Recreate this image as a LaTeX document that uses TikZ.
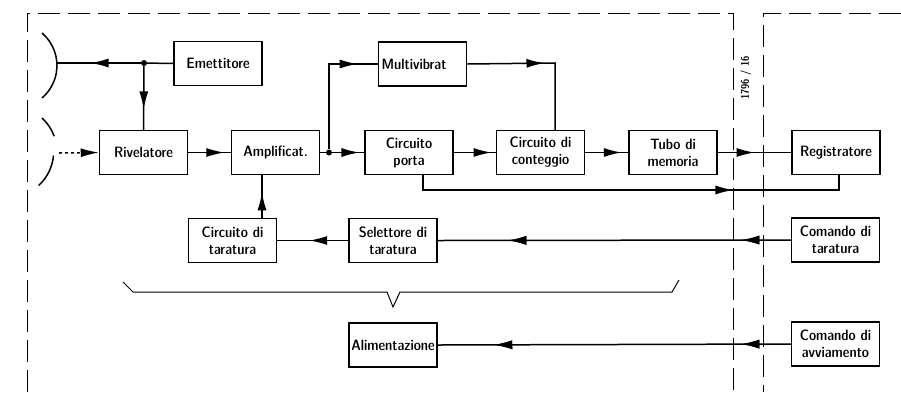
\documentclass[tikz,border=0pt]{standalone}
\usetikzlibrary{arrows.meta}
\usetikzlibrary{decorations.markings}
\tikzset{box/.style = {draw, line width=1.5pt, minimum width=88pt,
                       minimum height=44pt, inner sep=2pt, align=center,
                       font=\fontsize{15}{17}\sffamily\fontseries{sbc}\selectfont}}
\tikzset{midarrow/.style = {decoration={markings,
                                        mark=at position #1
                                        with {\arrow{Latex[length=18pt,width=9pt]}}},
                            postaction={decorate}}}
\tikzset{jdot/.style = {fill, circle, inner sep=0, minimum size=6pt}}
\tikzset{frame/.style = {line width=1pt, dash pattern=on 22pt off 8pt}}
\tikzset{conn/.style = {line width=1.5pt}}

\begin{document}
\begin{tikzpicture}[x=1pt, y=-1pt]
      \useasboundingbox (0,0) rectangle (901,392);

      % dashed frames
      \draw[frame] (27,392) -- (27,13) -- (733,13) -- (733,392);
      \draw[frame] (901,13) -- (763,13) -- (763,392);
      \node[rotate=90, font=\fontsize{11}{12}\sffamily\fontseries{sbc}\selectfont] (code) at (746,78) {1796 / 16};

      % antennas
      \draw[line width=1.5pt] (42,33) arc[start angle=-49.5, end angle=49.5, radius=42.7];
      \draw[line width=1.5pt] (42,118) arc[start angle=-47.6, end angle=-20, radius=46];
      \draw[line width=1.5pt] (53.5,155.5) arc[start angle=5, end angle=47.6, radius=46];
      \coordinate (antA) at (57,63);
      \coordinate (antB) at (59,153);

      % blocks
      \node[box] (emett)  at (218,63.5)  {Emettitore};
      \node[box] (rivel)  at (143.5,152.5) {Rivelatore};
      \node[box] (ampl)   at (275.5,152.5) {Amplificat.};
      \node[box, text width=82pt, align=left] (multi) at (422.5,64) {Multivibrat};
      \node[box] (porta)  at (409,152.5) {Circuito\\porta};
      \node[box] (conteg) at (540.5,152.5) {Circuito di\\conteggio};
      \node[box] (tubo)   at (673,152.5) {Tubo di\\memoria};
      \node[box] (regis)  at (836,152.5) {Registratore};
      \node[box] (tarc)   at (232.5,240.5) {Circuito di\\taratura};
      \node[box] (selet)  at (393,240.5) {Selettore di\\taratura};
      \node[box] (alim)   at (393,345) {Alimentazione};
      \node[box] (comtar) at (835.5,240) {Comando di\\taratura};
      \node[box] (comavv) at (835.5,344) {Comando di\\avviamento};

      % junctions
      \node[jdot] (jA) at (144,63) {};
      \node[jdot] (jB) at (329,152.5) {};
      \coordinate (kA) at (262,0);
      \coordinate (kC) at (555,63);
      \coordinate (kP) at (423,190);
      \coordinate (kR) at (839,190);

      % connectors
      \draw[conn] (emett.west) -- (jA);
      \draw[conn, midarrow=0.6] (jA) -- (antA);
      \draw[conn, midarrow=0.68] (jA) -- (rivel.north);
      \draw[conn, dashed, -{Latex[length=18pt,width=9pt]}] (antB) -- (rivel.west);
      \draw[conn, midarrow=0.85] (rivel.east) -- (ampl.west);
      \draw[conn] (ampl.east) -- (jB);
      \draw[conn, midarrow=0.85] (jB) -- (porta.west);
      \draw[conn, midarrow=0.85] (jB) |- (multi.west);
      \draw[conn, midarrow=0.5] (multi.east) -- (kC) -- (kC |- conteg.north);
      \draw[conn, midarrow=0.9] (porta.east) -- (conteg.west);
      \draw[conn, midarrow=0.85] (conteg.east) -- (tubo.west);
      \draw[conn, midarrow=0.5] (tubo.east) -- (regis.west);
      \draw[conn, midarrow=0.73] (kP |- porta.south) -- (kP) -- (kR) -- (kR |- regis.south);
      \draw[conn, midarrow=0.6] (kA |- tarc.north) -- (kA |- ampl.south);
      \draw[conn, midarrow=0.55] (selet.west) -- (tarc.east);
      \draw[conn, midarrow=0.14, midarrow=0.8] (comtar.west) -- (selet.east);
      \draw[conn, midarrow=0.14, midarrow=0.84] (comavv.west) -- (alim.east);

      % brace
      \draw[line width=1pt] (123,282) -- (133,292) -- (387,292) -- (393,307)
            -- (400,292) -- (672,292) -- (679,280);
    \end{tikzpicture}
\end{document}
